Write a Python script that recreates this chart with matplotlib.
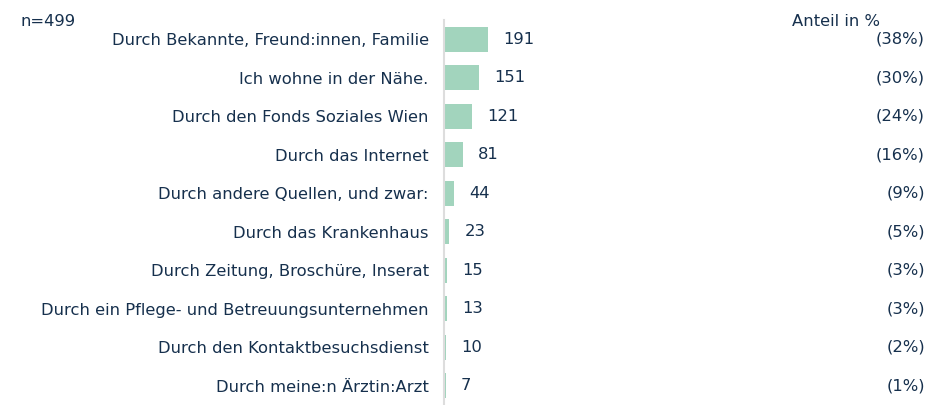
import matplotlib.pyplot as plt

categories = [
    'Durch Bekannte, Freund:innen, Familie',
    'Ich wohne in der Nähe.',
    'Durch den Fonds Soziales Wien',
    'Durch das Internet',
    'Durch andere Quellen, und zwar:',
    'Durch das Krankenhaus',
    'Durch Zeitung, Broschüre, Inserat',
    'Durch ein Pflege- und Betreuungsunternehmen',
    'Durch den Kontaktbesuchsdienst',
    'Durch meine:n Ärztin:Arzt',
]
counts = [191, 151, 121, 81, 44, 23, 15, 13, 10, 7]
shares = ['(38%)', '(30%)', '(24%)', '(16%)', '(9%)', '(5%)', '(3%)', '(3%)', '(2%)', '(1%)']

text_col = '#16304d'
bar_col = '#a2d4bd'
fs = 11.8

plt.rcParams['font.family'] = ['DejaVu Sans']

fig = plt.figure(figsize=(9.44, 4.05), dpi=100)
ax = fig.add_axes([444 / 944, 0, 481 / 944, 385 / 405])

y = list(range(len(categories)))
ax.barh(y, counts, height=0.65, color=bar_col, left=0)
ax.set_xlim(0, 2091)
ax.set_ylim(len(categories) - 0.5, -0.5)

for i, (c, s) in enumerate(zip(counts, shares)):
    ax.annotate(str(c), (c, i), xytext=(11, 0), textcoords='offset points',
                va='center', ha='left', fontsize=fs, color=text_col)
    ax.text(1.0, i, s, transform=ax.get_yaxis_transform(), ha='right',
            va='center', fontsize=fs, color=text_col)

ax.set_yticks(y)
ax.set_yticklabels(categories, fontsize=fs, color=text_col)
ax.tick_params(axis='y', length=0, pad=11)
ax.set_xticks([])
for side in ['top', 'right', 'bottom']:
    ax.spines[side].set_visible(False)
ax.spines['left'].set_color('#dddddd')
ax.spines['left'].set_linewidth(1.5)

fig.text(20 / 944, 1 - 22 / 405, 'n=499', fontsize=fs, color=text_col, va='center')
fig.text(880 / 944, 1 - 22 / 405, 'Anteil in %', fontsize=fs, color=text_col,
         va='center', ha='right')

fig.savefig('out.png', dpi=100)
